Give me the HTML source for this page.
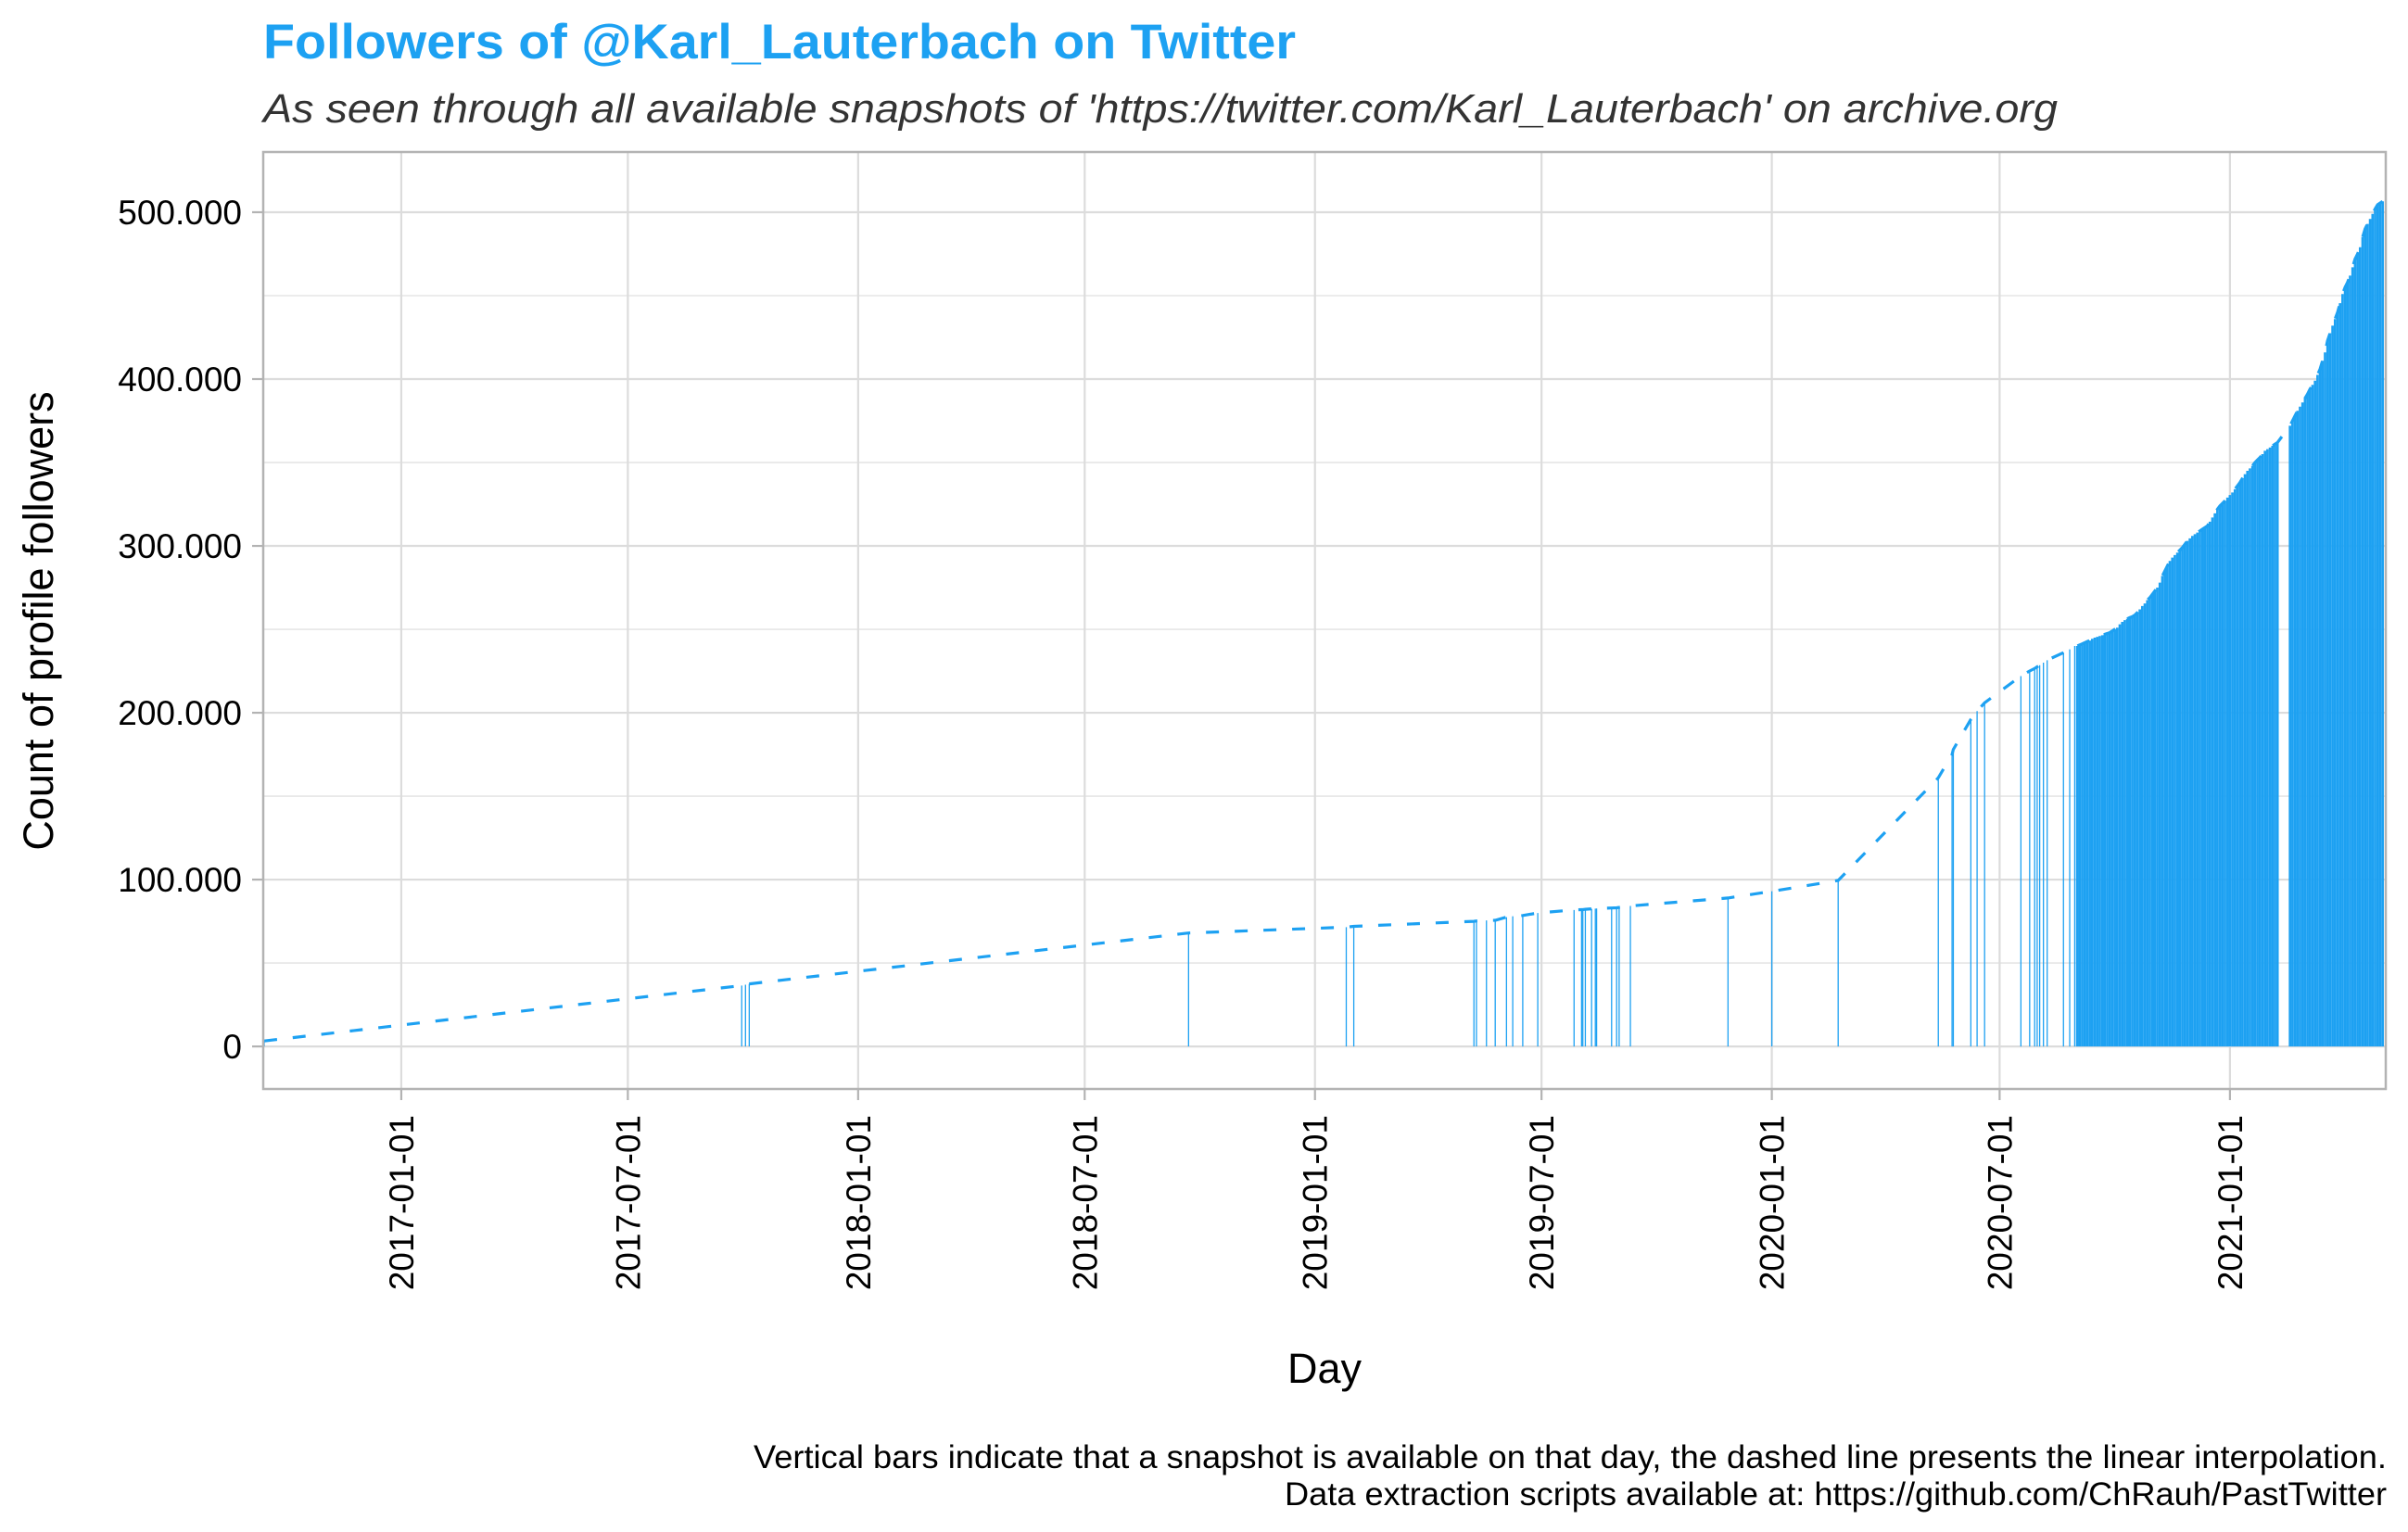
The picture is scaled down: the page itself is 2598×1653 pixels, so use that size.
<!DOCTYPE html>
<html><head><meta charset="utf-8"><style>
html,body{margin:0;padding:0;background:#fff;}
svg{display:block;font-family:"Liberation Sans",Arial,sans-serif;}
</style></head><body>
<svg id="chart" width="2598" height="1653" viewBox="0 0 2598 1653" xmlns="http://www.w3.org/2000/svg">
<rect width="2598" height="1653" fill="#fff"/>
<text x="284" y="63" font-size="53" font-weight="bold" fill="#1DA1F2" textLength="1114" lengthAdjust="spacingAndGlyphs">Followers of @Karl_Lauterbach on Twitter</text>
<text x="284" y="132" font-size="44" font-style="italic" fill="#333" textLength="1936" lengthAdjust="spacingAndGlyphs">As seen through all available snapshots of 'https://twitter.com/Karl_Lauterbach' on archive.org</text>
<g id="grid"></g>
<g id="bars"></g>
<path id="line" fill="none" stroke="#1DA1F2" stroke-width="3.2" stroke-dasharray="14 17"/>
<rect x="284" y="164" width="2290" height="1011" fill="none" stroke="#b3b3b3" stroke-width="2.5"/>
<g id="axes"></g>
<text x="1429" y="1492" font-size="45" text-anchor="middle" fill="#000">Day</text>
<text transform="translate(57,670) rotate(-90)" font-size="45" text-anchor="middle" fill="#000">Count of profile followers</text>
<text x="2575" y="1584" font-size="35" text-anchor="end" fill="#000" textLength="1762" lengthAdjust="spacingAndGlyphs">Vertical bars indicate that a snapshot is available on that day, the dashed line presents the linear interpolation.</text>
<text x="2575" y="1624" font-size="35" text-anchor="end" fill="#000" textLength="1189" lengthAdjust="spacingAndGlyphs">Data extraction scripts available at: https://github.com/ChRauh/PastTwitter</text>
</svg>
<script>
// days since 2017-01-01
const xTickDays = [0,181,365,546,730,911,1095,1277,1461];
const xTickLabels = ["2017-01-01","2017-07-01","2018-01-01","2018-07-01","2019-01-01","2019-07-01","2020-01-01","2020-07-01","2021-01-01"];
const yTickValues = [0,100000,200000,300000,400000,500000];
const yTickLabels = ["0","100.000","200.000","300.000","400.000","500.000"];
const yMinorValues = [50000,150000,250000,350000,450000];
// sparse snapshots (day, thousands of followers)
const sparseDays = [-110,272,275,278,629,755,761,857,859,867,874,883,888,896,908,937,943,944,946,951,954,955,967,971,973,982,1060,1095,1148,1228,1239,1240,1254,1259,1265,1294,1301,1305,1307,1309,1312,1315,1328,1333,1337];
const sparseValues = [3.3,36.5,37,37.5,68,71.5,72,75,75.2,75.5,75.6,77.5,78,78.5,80,81.8,82,82,82.2,82.5,82.6,82.7,83,83.1,83.3,84.2,89,93,99.5,161,175,178,196,201,206,222,225,226.5,227.5,228.5,230,231.5,236,238,240];
// dense snapshots (every ~2 days)
const denseDays = [1339,1341,1343,1345,1347,1349,1351,1353,1355,1357,1359,1361,1363,1365,1367,1369,1371,1373,1375,1377,1379,1381,1383,1385,1387,1389,1391,1393,1395,1397,1399,1401,1403,1405,1407,1409,1411,1413,1415,1417,1419,1421,1423,1425,1427,1429,1431,1433,1435,1437,1439,1441,1443,1445,1447,1449,1451,1453,1455,1457,1459,1461,1463,1465,1467,1469,1471,1473,1475,1477,1479,1481,1483,1485,1487,1489,1491,1493,1495,1497,1499,1509,1511,1513,1515,1517,1519,1521,1523,1525,1527,1529,1531,1533,1535,1537,1539,1541,1543,1545,1547,1549,1551,1553,1555,1557,1559,1561,1563,1565,1567,1569,1571,1573,1575,1577,1579,1581,1583];
const denseValues = [240,240.7,241.3,242,242.7,243.3,244.3,245,245.5,246,246.5,247,247.5,248,249,250,251,253,254.5,255.5,256.3,257,257.6,258.5,260,262,264,265.5,267.5,269,271,273,275,278,282,285,288,291,293,294.5,296,297.5,299,301,303,304.5,306,307,308,309,310,311,312,314.5,317,319.5,322,324,325.5,327,329,330.5,332,334,336,338,340.5,343,345,346.5,348,350,351.5,353,355,357,358,359,360,361,362,372,375,378,381,383.5,386,388.5,391,394,396.5,399,402.5,406,411,416,423,427.5,432,436,440,445.5,451,455,458,462,467,472,475,479,485,490,493,496,499,502,504.5,505.5,506.5];

const NS="http://www.w3.org/2000/svg";
const L=284,R=2574,T=164,B=1175;
const dMin=-110.3,dMax=1585.5,vMin=-25500,vMax=536100;
function xs(d){return L+(d-dMin)/(dMax-dMin)*(R-L);}
function ys(v){return B-(v-vMin)/(vMax-vMin)*(B-T);}
function mk(tag,attrs,parent){const e=document.createElementNS(NS,tag);for(const k in attrs)e.setAttribute(k,attrs[k]);parent.appendChild(e);return e;}
const grid=document.getElementById('grid'),axes=document.getElementById('axes'),bars=document.getElementById('bars');
yMinorValues.forEach(v=>{const e=mk('line',{x1:L,x2:R,y1:ys(v),y2:ys(v),stroke:'#e6e6e6','stroke-width':1.6},grid);

});
yTickValues.forEach((v,i)=>{const y=ys(v);
const g=mk('line',{x1:L,x2:R,y1:y,y2:y,stroke:'#dcdcdc','stroke-width':2.2},grid);


const t=mk('line',{x1:272,x2:L,y1:y,y2:y,stroke:'#b3b3b3','stroke-width':2.2},axes);


const tx=mk('text',{x:261,y:y+13,'font-size':37,'text-anchor':'end',fill:'#000'},axes);tx.textContent=yTickLabels[i];

});
xTickDays.forEach((d,i)=>{const x=xs(d);
const g=mk('line',{x1:x,x2:x,y1:T,y2:B,stroke:'#dcdcdc','stroke-width':2.2},grid);


const t=mk('line',{x1:x,x2:x,y1:B,y2:B+12,stroke:'#b3b3b3','stroke-width':2.2},axes);


const tx=mk('text',{transform:`translate(${x+13},1203) rotate(-90)`,'font-size':37,'text-anchor':'end',fill:'#000'},axes);tx.textContent=xTickLabels[i];

});
const y0=ys(0);
sparseDays.forEach((d,i)=>{const x=Math.max(xs(d),L+1);
const b=mk('line',{x1:x,x2:x,y1:y0,y2:ys(sparseValues[i]*1000),stroke:'#1DA1F2','stroke-width':1.3},bars);

});
denseDays.forEach((d,i)=>{const x=xs(d);
const b=mk('line',{x1:x,x2:x,y1:y0,y2:ys(denseValues[i]*1000),stroke:'#1DA1F2','stroke-width':2.7},bars);

});
const allD=sparseDays.concat(denseDays),allV=sparseValues.concat(denseValues);
let p='';allD.forEach((d,i)=>{p+=(i?'L':'M')+Math.max(xs(d),L+1).toFixed(1)+' '+ys(allV[i]*1000).toFixed(1);});
document.getElementById('line').setAttribute('d',p);
</script>
</body></html>
